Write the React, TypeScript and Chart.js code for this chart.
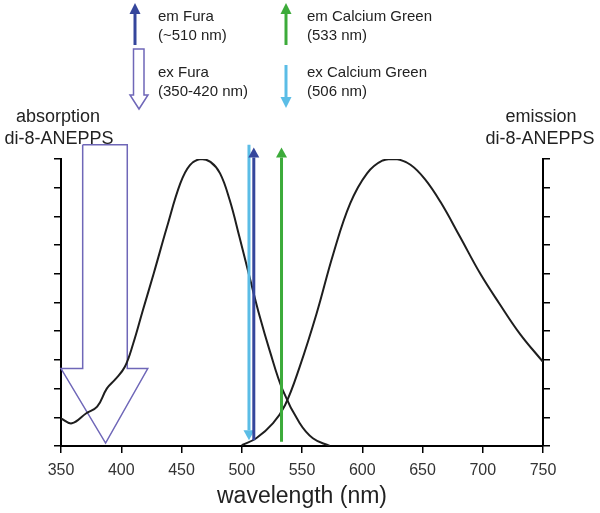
import React, { useEffect, useRef } from 'react';
import { Chart, registerables } from 'chart.js';

Chart.register(...registerables);

// ---- data ----
const xTickValues = [350, 400, 450, 500, 550, 600, 650, 700, 750];

const absorptionWl = [350, 359, 371, 380, 388, 395, 403, 410, 418, 427, 438, 449, 457, 466, 474, 482, 490, 498, 507, 515, 523, 534, 548, 559, 573];
const absorptionVal = [0.96, 0.79, 1.14, 1.37, 2.0, 2.32, 2.76, 3.58, 4.74, 6.02, 7.64, 9.15, 9.79, 10.0, 9.9, 9.5, 8.57, 7.3, 5.8, 4.5, 3.35, 1.95, 0.8, 0.27, 0.0];

const emissionWl = [500, 512, 526, 536, 548, 562, 576, 590, 604, 617, 628, 640, 652, 665, 681, 698, 714, 731, 750];
const emissionVal = [0.03, 0.27, 0.8, 1.43, 2.75, 4.6, 6.7, 8.45, 9.5, 9.95, 10.0, 9.8, 9.3, 8.5, 7.3, 6.0, 4.95, 3.9, 2.93];

// hollow excitation arrow for Fura (350-420 nm), outline in data units
const exFuraX = [368, 368, 350, 387, 422, 405, 405, 368];
const exFuraY = [10.5, 2.7, 2.7, 0.1, 2.7, 2.7, 10.5, 10.5];

// vertical line arrows: wavelength, tail value, tip value
const lineArrowWl = [506, 510, 533];
const lineArrowTail = [10.5, 0.2, 0.15];
const lineArrowTip = [0.2, 10.4, 10.4];
const lineArrowColors = ['#5bbde6', '#35469c', '#3cab3a'];

const legendLines = [
  ['em Fura', '(~510 nm)'],
  ['ex Fura', '(350-420 nm)'],
  ['em Calcium Green', '(533 nm)'],
  ['ex Calcium Green', '(506 nm)'],
];

const FONT = "'Liberation Sans', Arial, sans-serif";
const HOLLOW = '#6f67b8';

function drawArrow(ctx: CanvasRenderingContext2D, x: number, y0: number, y1: number, color: string, w: number, headW: number, headL: number) {
  const dir = Math.sign(y1 - y0);
  ctx.save();
  ctx.strokeStyle = color;
  ctx.lineWidth = w;
  ctx.beginPath();
  ctx.moveTo(x, y0);
  ctx.lineTo(x, y1 - dir * headL);
  ctx.stroke();
  ctx.fillStyle = color;
  ctx.beginPath();
  ctx.moveTo(x, y1);
  ctx.lineTo(x - headW / 2, y1 - dir * headL);
  ctx.lineTo(x + headW / 2, y1 - dir * headL);
  ctx.closePath();
  ctx.fill();
  ctx.restore();
}

export default function App() {
  const ref = useRef<HTMLCanvasElement>(null);

  useEffect(() => {
    const canvas = ref.current;
    if (!canvas) return;

    const overlay = {
      id: 'overlay',
      afterDatasetsDraw(chart: any) {
        const ctx: CanvasRenderingContext2D = chart.ctx;
        const xs = chart.scales.x;
        const ys = chart.scales.y;
        lineArrowWl.forEach((wl, i) => {
          const x = xs.getPixelForValue(wl);
          drawArrow(ctx, x, ys.getPixelForValue(lineArrowTail[i]), ys.getPixelForValue(lineArrowTip[i]), lineArrowColors[i], 3, 11, 10);
        });
      },
      afterDraw(chart: any) {
        const ctx: CanvasRenderingContext2D = chart.ctx;
        ctx.save();
        // legend symbols
        drawArrow(ctx, 135, 45, 3, '#35469c', 3, 11, 11);
        drawArrow(ctx, 286, 45, 3, '#3cab3a', 3, 11, 11);
        drawArrow(ctx, 286, 65, 108, '#5bbde6', 3, 11, 11);
        ctx.strokeStyle = HOLLOW;
        ctx.lineWidth = 1.5;
        ctx.beginPath();
        ctx.moveTo(133.5, 49);
        ctx.lineTo(133.5, 95);
        ctx.lineTo(130, 95);
        ctx.lineTo(139, 109);
        ctx.lineTo(148, 95);
        ctx.lineTo(144, 95);
        ctx.lineTo(144, 49);
        ctx.closePath();
        ctx.stroke();

        // legend text
        ctx.fillStyle = '#222';
        ctx.font = `15px ${FONT}`;
        ctx.textBaseline = 'middle';
        ctx.textAlign = 'left';
        const pos = [
          [158, 17], [158, 73], [307, 17], [307, 73],
        ];
        legendLines.forEach((lines, i) => {
          ctx.fillText(lines[0], pos[i][0], pos[i][1]);
          ctx.fillText(lines[1], pos[i][0], pos[i][1] + 19);
        });

        // axis labels
        ctx.font = `18px ${FONT}`;
        ctx.textAlign = 'center';
        ctx.fillText('absorption', 58, 117);
        ctx.fillText('di-8-ANEPPS', 59, 139);
        ctx.fillText('emission', 541, 117);
        ctx.fillText('di-8-ANEPPS', 540, 139);
        ctx.restore();
      },
    };

    const chart = new Chart(canvas, {
      type: 'line',
      data: {
        datasets: [
          {
            label: 'absorption',
            data: absorptionWl.map((x, i) => ({ x, y: absorptionVal[i] })),
            borderColor: '#1e1e1e',
            borderWidth: 2,
            pointRadius: 0,
            fill: false,
            tension: 0.4,
            yAxisID: 'y',
          },
          {
            label: 'emission',
            data: emissionWl.map((x, i) => ({ x, y: emissionVal[i] })),
            borderColor: '#1e1e1e',
            borderWidth: 2,
            pointRadius: 0,
            fill: false,
            tension: 0.4,
            yAxisID: 'y',
          },
          {
            label: 'ex Fura',
            data: exFuraX.map((x, i) => ({ x, y: exFuraY[i] })),
            borderColor: HOLLOW,
            borderWidth: 1.5,
            pointRadius: 0,
            fill: false,
            tension: 0,
            clip: false as any,
            yAxisID: 'y',
          },
        ],
      },
      options: {
        animation: false,
        responsive: false,
        devicePixelRatio: window.devicePixelRatio || 1,
        layout: { padding: { top: 159, left: 0, right: 0, bottom: 0 } },
        plugins: {
          legend: { display: false },
          tooltip: { enabled: false },
        },
        scales: {
          x: {
            type: 'linear',
            min: 350,
            max: 750,
            afterBuildTicks: (scale: any) => {
              scale.ticks = xTickValues.map((v) => ({ value: v }));
            },
            afterFit: (scale: any) => {
              scale.height = 67;
            },
            ticks: {
              color: '#333',
              font: { family: FONT, size: 16 },
              padding: 8,
              maxRotation: 0,
              autoSkip: false,
            },
            grid: {
              drawOnChartArea: false,
              drawTicks: true,
              tickLength: 7,
              color: '#000',
              lineWidth: 1.5,
            },
            border: { display: true, color: '#000', width: 2 },
            title: {
              display: true,
              text: 'wavelength (nm)',
              color: '#222',
              font: { family: FONT, size: 23 },
              padding: { top: 0, bottom: 3 },
            },
          },
          y: {
            type: 'linear',
            position: 'left',
            min: 0,
            max: 10,
            ticks: { stepSize: 1, display: false },
            afterFit: (scale: any) => {
              scale.width = 61;
            },
            grid: {
              drawOnChartArea: false,
              drawTicks: true,
              tickLength: 7,
              color: '#000',
              lineWidth: 1.5,
            },
            border: { display: true, color: '#000', width: 2 },
          },
          y2: {
            type: 'linear',
            position: 'right',
            min: 0,
            max: 10,
            ticks: { stepSize: 1, display: false },
            afterFit: (scale: any) => {
              scale.width = 57;
            },
            grid: {
              drawOnChartArea: false,
              drawTicks: true,
              tickLength: 7,
              color: '#000',
              lineWidth: 1.5,
            },
            border: { display: true, color: '#000', width: 2 },
          },
        },
      } as any,
      plugins: [overlay],
    });

    return () => chart.destroy();
  }, []);

  return (
    <div style={{ position: 'absolute', left: 0, top: 0, width: 600, height: 513, background: '#fff' }}>
      <canvas ref={ref} width={600} height={513} style={{ display: 'block', width: 600, height: 513 }} />
    </div>
  );
}
